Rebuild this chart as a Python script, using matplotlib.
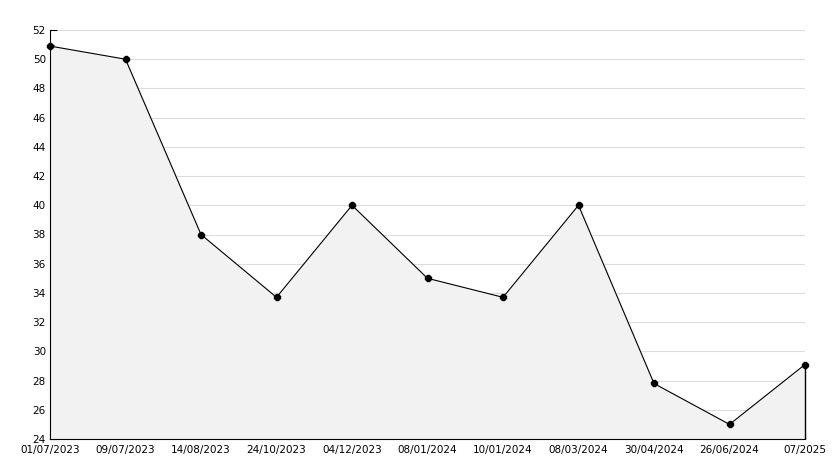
import matplotlib.pyplot as plt
import numpy as np

dates = ["01/07/2023", "09/07/2023", "14/08/2023", "24/10/2023", "04/12/2023",
         "08/01/2024", "10/01/2024", "08/03/2024", "30/04/2024", "26/06/2024", "07/2025"]
values = [50.9, 50.0, 38.0, 33.7, 40.0, 35.0, 33.7, 40.0, 27.8, 25.0, 29.1]

fig = plt.figure(figsize=(8.34, 4.68), dpi=100)
ax = fig.add_axes([50 / 834, 1 - 439 / 468, 755 / 834, 409 / 468])

x = np.arange(len(values))
ax.fill_between(x, values, 24, color="#f2f2f2", zorder=1)
ax.plot(x, values, color="black", lw=0.8, marker="8", ms=4.5, zorder=3, clip_on=False)
ax.vlines(x[-1], 24, values[-1], color="black", lw=1.0, zorder=3, clip_on=False)

ax.set_xlim(0, len(values) - 1)
ax.set_ylim(24, 52)
ax.set_xticks(x)
ax.set_xticklabels(dates)
ax.set_yticks(np.arange(24, 53, 2))
ax.set_yticks(np.arange(25, 52, 2), minor=True)
ax.grid(axis="y", color="#dddddd", lw=0.8, zorder=0)
ax.set_axisbelow(True)

for s in ["top", "right"]:
    ax.spines[s].set_visible(False)
ax.tick_params(direction="in", length=5, width=0.8, labelsize=7.5, pad=3)
ax.tick_params(which="minor", direction="in", length=3, width=0.8)
ax.tick_params(axis="x", pad=4)

fig.savefig("out.png", dpi=100)
